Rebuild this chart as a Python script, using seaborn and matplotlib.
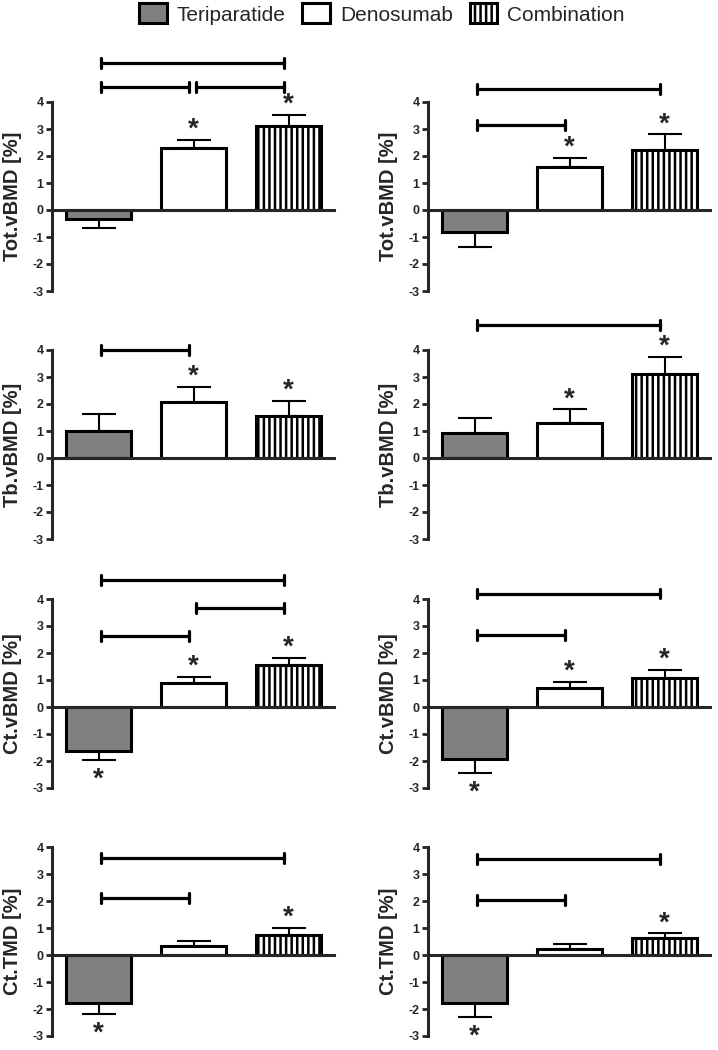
import numpy as np
import matplotlib
matplotlib.use('Agg')
import matplotlib.pyplot as plt
import seaborn as sns
from matplotlib.patches import Patch

sns.set_style('ticks')
plt.rcParams['font.family'] = ['Liberation Sans', 'DejaVu Sans']
plt.rcParams['hatch.linewidth'] = 1.8

groups = ['Teriparatide', 'Denosumab', 'Combination']
colors = ['#808080', 'white', 'white']

# panel order: row by row, left then right
ylabels = ['Tot.vBMD [%]', 'Tot.vBMD [%]', 'Tb.vBMD [%]', 'Tb.vBMD [%]',
           'Ct.vBMD [%]', 'Ct.vBMD [%]', 'Ct.TMD [%]', 'Ct.TMD [%]']

means = [
    [-0.33, 2.28, 3.11],
    [-0.80, 1.58, 2.22],
    [1.01, 2.09, 1.56],
    [0.91, 1.28, 3.11],
    [-1.62, 0.90, 1.55],
    [-1.93, 0.69, 1.06],
    [-1.79, 0.33, 0.74],
    [-1.79, 0.22, 0.64],
]
errs = [
    [0.35, 0.31, 0.41],
    [0.58, 0.36, 0.58],
    [0.62, 0.53, 0.55],
    [0.56, 0.52, 0.62],
    [0.34, 0.22, 0.28],
    [0.53, 0.25, 0.31],
    [0.40, 0.19, 0.27],
    [0.52, 0.19, 0.16],
]
# significant vs baseline (*)
stars = [
    [False, True, True],
    [False, True, True],
    [False, True, True],
    [False, True, True],
    [True, True, True],
    [True, True, True],
    [True, False, True],
    [True, False, True],
]
# group comparisons: (from, to, height)
brackets = [
    [(0, 2, 5.44), (0, 1, 4.55), (1, 2, 4.55)],
    [(0, 2, 4.48), (0, 1, 3.15)],
    [(0, 1, 4.0)],
    [(0, 2, 4.93)],
    [(0, 2, 4.7), (1, 2, 3.68), (0, 1, 2.63)],
    [(0, 2, 4.2), (0, 1, 2.66)],
    [(0, 2, 3.6), (0, 1, 2.1)],
    [(0, 2, 3.55), (0, 1, 2.05)],
]

W, H = 718, 1050
fig = plt.figure(figsize=(W / 100, H / 100), dpi=100)

px_unit = 27
ylo, yhi = -3.2, 6.0
zero_rows = [210, 458, 707, 955]
spine_cols = [52, 428]
ax_w = 2.97 * 95

for k in range(8):
    r, c = divmod(k, 2)
    bottom_px = zero_rows[r] + (-ylo) * px_unit
    height_px = (yhi - ylo) * px_unit
    ax = fig.add_axes([spine_cols[c] / W, 1 - bottom_px / H, ax_w / W, height_px / H])

    sns.barplot(x=groups, y=means[k], hue=groups, order=groups, hue_order=groups,
                palette=colors, saturation=1, width=0.68, edgecolor='black',
                linewidth=2.2, legend=False, ax=ax, zorder=3)
    ax.patches[2].set_hatch('|||')

    m = np.array(means[k])
    e = np.array(errs[k])
    lower = np.where(m < 0, e, 0)
    upper = np.where(m >= 0, e, 0)
    ax.errorbar(range(3), m, yerr=[lower, upper], fmt='none', ecolor='black',
                elinewidth=1.5, capsize=12, capthick=1.5, zorder=2)

    for i, flag in enumerate(stars[k]):
        if flag:
            if m[i] >= 0:
                ys = m[i] + e[i] + 0.38
            else:
                ys = m[i] - e[i] - 0.72
            ax.text(i, ys, '*', ha='center', va='center', fontsize=20,
                    fontweight='bold', clip_on=False)

    for i, j, yb in brackets[k]:
        x1, x2 = i + 0.03, j - 0.05
        ax.plot([x1, x2], [yb, yb], color='black', lw=2.3, solid_capstyle='butt')
        ax.plot([x1, x1], [yb - 0.18, yb + 0.18], color='black', lw=2.3)
        ax.plot([x2, x2], [yb - 0.18, yb + 0.18], color='black', lw=2.3)

    ax.set_xlim(-0.49, 2.48)
    ax.set_ylim(ylo, yhi)
    ax.set_yticks(range(-3, 5))
    ax.set_yticklabels([str(v) for v in range(-3, 5)], fontweight='bold', fontsize=9)
    ax.set_xticks([])
    ax.set_xlabel('')
    ax.spines['top'].set_visible(False)
    ax.spines['right'].set_visible(False)
    ax.spines['left'].set_bounds(-3, 4)
    ax.spines['left'].set_linewidth(2.2)
    ax.spines['bottom'].set_position(('data', 0))
    ax.spines['bottom'].set_linewidth(2.2)
    ax.spines['bottom'].set_zorder(4)
    ax.tick_params(axis='y', length=4, width=2, pad=2)
    ax.set_ylabel(ylabels[k], fontsize=14.5, fontweight='bold')
    ax.yaxis.set_label_coords(-0.105, (0.5 - ylo) / (yhi - ylo))
    ax.patch.set_visible(False)

handles = [
    Patch(facecolor='#808080', edgecolor='black', linewidth=2.2),
    Patch(facecolor='white', edgecolor='black', linewidth=2.2),
    Patch(facecolor='white', edgecolor='black', linewidth=2.2, hatch='|||'),
]
fig.legend(handles, groups, loc='center', bbox_to_anchor=(0.532, 1 - 14 / H),
           ncol=3, frameon=False, fontsize=15, handlelength=1.3, handleheight=1.1,
           handletextpad=0.5, columnspacing=0.8)

fig.savefig('out.png', dpi=100)
